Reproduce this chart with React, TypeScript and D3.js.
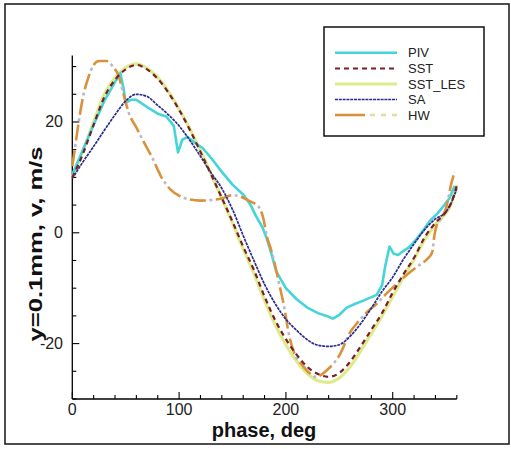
import React from "react";
import * as d3 from "d3";

const pivData: [number, number][] = [
  [0, 10.5], [10, 15], [20, 19.5], [30, 23.8], [40, 27.2], [45, 28.8], [48, 26], [50, 23.5],
  [55, 24], [60, 24], [70, 22.7], [80, 21.5], [88, 21], [95, 19.3], [99, 14.5], [103, 16.8],
  [108, 17.3], [115, 16.2], [122, 15.3], [130, 13.5], [140, 11], [150, 8.7], [160, 6.9],
  [167, 5], [172, 3], [178, 1], [182, -1], [186, -3.5], [191, -7], [200, -10], [210, -12],
  [220, -13.5], [230, -14.5], [238, -15], [244, -15.5], [250, -14.8], [257, -13.5], [265, -12.8],
  [273, -12.2], [285, -11.2], [290, -9.5], [293, -6], [297, -2.5], [301, -3.8], [305, -4],
  [310, -3.3], [316, -2.5], [322, -1.2], [328, 0.3], [335, 2.2], [342, 3.5], [347, 4.7],
  [353, 6.2], [358, 8.5],
];

const sstData: [number, number][] = [
  [0, 10], [5, 12], [10, 14.3], [20, 19.5], [30, 24.5], [40, 27.6], [50, 29.5], [60, 30.3],
  [70, 29.5], [80, 27.8], [90, 25.3], [100, 22.2], [110, 18.6], [120, 14.6], [130, 10.5],
  [140, 6.3], [150, 2], [160, -2.5], [170, -6.7], [180, -11.5], [190, -15.8], [200, -19.2],
  [210, -22], [220, -24.2], [230, -25.5], [240, -26], [250, -25.3], [260, -23.3], [270, -20.5],
  [280, -17.5], [290, -14.5], [300, -10.8], [310, -7.5], [320, -4.5], [330, -0.8], [340, 1.8],
  [350, 3.8], [355, 5.5], [360, 8.5],
];

const sstLesData: [number, number][] = [
  [0, 10], [5, 12.3], [10, 14.8], [20, 20], [30, 25], [40, 28], [50, 29.8], [60, 30.5],
  [70, 29.7], [80, 28], [90, 25.5], [100, 22.3], [110, 18.8], [120, 14.8], [130, 10.6],
  [140, 6.2], [150, 1.8], [160, -2.9], [170, -7.3], [180, -12.2], [190, -16.6], [200, -20.2],
  [210, -23.2], [220, -25.4], [230, -26.7], [240, -27], [250, -26.2], [260, -24.2], [270, -21.3],
  [280, -18.2], [290, -15], [300, -11.5], [310, -8], [320, -4.8], [330, -1.2], [340, 1.5],
  [350, 3.6], [355, 5.3], [360, 8.6],
];

const saData: [number, number][] = [
  [0, 9.8], [10, 12.8], [20, 15.6], [30, 18.5], [40, 21.3], [50, 23.8], [60, 25], [70, 24.6],
  [80, 23], [90, 21.3], [100, 19.3], [110, 16.7], [120, 13.8], [130, 10.8], [140, 8],
  [150, 4.2], [160, -0.5], [170, -5], [180, -9.3], [190, -12.8], [200, -15.6], [210, -17.6],
  [220, -19.3], [230, -20.3], [240, -20.5], [250, -20.2], [260, -18.7], [270, -16.4],
  [280, -13.6], [290, -10.6], [300, -8], [310, -4.8], [320, -2], [330, 0.6], [340, 2.5],
  [350, 3.8], [355, 5.5], [360, 8],
];

const hwData: [number, number][] = [
  [0, 12], [3, 16], [6, 20], [10, 24.5], [15, 28], [20, 30.3], [25, 31], [32, 31], [38, 30],
  [43, 28.5], [48, 25], [53, 21.6], [60, 19], [68, 16], [75, 13.5], [83, 10.2], [92, 7.8],
  [100, 6.7], [110, 6], [120, 5.8], [130, 5.9], [140, 6.2], [150, 6.8], [158, 6.5], [166, 5.7],
  [174, 4.8], [179, 2.5], [182, -0.5], [186, -3], [190, -6], [194, -9.5], [198, -13],
  [203, -18.5], [208, -21.8], [215, -23.8], [222, -25.3], [228, -26], [234, -25.5], [240, -24.5],
  [245, -23.5], [251, -21.8], [260, -18], [268, -16], [276, -14.3], [285, -12.8], [295, -10.8],
  [305, -9], [315, -7.3], [325, -5.8], [332, -4.8], [337, -3.5], [339, -0.5], [341, 1.2],
  [345, 2.5], [350, 4.5], [355, 9], [358, 11],
];

const legendLabels = ["PIV", "SST", "SST_LES", "SA", "HW"];
const xMajorTicks = [0, 100, 200, 300];
const xMinorTicks = d3.range(0, 361, 20);
const yMajorTicks = [-20, 0, 20];
const yMinorTicks = d3.range(-30, 31, 5);

const W = 511;
const H = 449;
const x = d3.scaleLinear().domain([0, 360]).range([72.3, 456.8]);
const y = d3.scaleLinear().domain([-30, 32]).range([399, 55.5]);

const smooth = d3
  .line<[number, number]>()
  .x((d) => x(d[0]))
  .y((d) => y(d[1]))
  .curve(d3.curveMonotoneX);
const straight = d3
  .line<[number, number]>()
  .x((d) => x(d[0]))
  .y((d) => y(d[1]))
  .curve(d3.curveLinear);

const FONT = "'Liberation Sans', Arial, sans-serif";

const styles: Record<string, any> = {
  PIV: { stroke: "#45D4D8", width: 2.6 },
  SST: { stroke: "#7A1E2E", width: 2.2, dash: "5 4" },
  SST_LES: { stroke: "#DDEB8A", width: 3.2 },
  SA: { stroke: "#2C2C8E", width: 1.7, dash: "3 0.8" },
  HW: { stroke: "#D9913C", width: 2.6, dash: "16 10" },
};

function HWPath({ d }: { d: string }) {
  return (
    <g>
      <path d={d} fill="none" stroke="#D9913C" strokeWidth={2.6} strokeDasharray="16 10" />
      <path
        d={d}
        fill="none"
        stroke="#B9B9C6"
        strokeWidth={2.6}
        strokeDasharray="3 23"
        strokeDashoffset={6.5}
      />
    </g>
  );
}

export default function App() {
  const legendY = [52.7, 68.5, 84, 99.5, 115];
  return (
    <svg
      width={W}
      height={H}
      style={{ position: "absolute", left: 0, top: 0, background: "#fff" }}
      fontFamily={FONT}
    >
      <rect x={0} y={0} width={W} height={H} fill="#fff" />
      <rect x={5} y={4} width={504} height={440} fill="none" stroke="#222" strokeWidth={1.6} />

      {/* axes */}
      <line x1={x(0)} x2={x(360)} y1={y(-30)} y2={y(-30)} stroke="#000" strokeWidth={1.3} />
      <line x1={x(0)} x2={x(0)} y1={y(-30)} y2={y(32)} stroke="#000" strokeWidth={1.3} />
      {xMinorTicks.map((t) => (
        <line
          key={"xt" + t}
          x1={x(t)}
          x2={x(t)}
          y1={y(-30)}
          y2={y(-30) - (xMajorTicks.includes(t) ? 7 : 4)}
          stroke="#000"
          strokeWidth={1.1}
        />
      ))}
      {yMinorTicks.map((t) => (
        <line
          key={"yt" + t}
          x1={x(0)}
          x2={x(0) + (yMajorTicks.includes(t) ? 7 : 4)}
          y1={y(t)}
          y2={y(t)}
          stroke="#000"
          strokeWidth={1.1}
        />
      ))}
      {xMajorTicks.map((t) => (
        <text key={"xl" + t} x={x(t)} y={415} fontSize={16} textAnchor="middle" fill="#222">
          {t}
        </text>
      ))}
      {yMajorTicks.map((t) => (
        <text key={"yl" + t} x={63} y={y(t) + 5.5} fontSize={16} textAnchor="end" fill="#222">
          {t}
        </text>
      ))}
      <text x={264} y={437} fontSize={20} fontWeight="bold" textAnchor="middle" fill="#111">
        phase, deg
      </text>
      <text
        transform={`translate(42,244) rotate(-90)`}
        fontSize={19}
        fontWeight="bold"
        textAnchor="middle"
        fill="#111"
        textLength={195}
        lengthAdjust="spacingAndGlyphs"
      >
        y=0.1mm, v, m/s
      </text>

      {/* series */}
      <path d={smooth(sstLesData) || ""} fill="none" stroke={styles.SST_LES.stroke} strokeWidth={styles.SST_LES.width} />
      <path d={straight(pivData) || ""} fill="none" stroke={styles.PIV.stroke} strokeWidth={styles.PIV.width} strokeLinejoin="round" />
      <HWPath d={smooth(hwData) || ""} />
      <path d={smooth(saData) || ""} fill="none" stroke={styles.SA.stroke} strokeWidth={styles.SA.width} strokeDasharray={styles.SA.dash} />
      <path d={smooth(sstData) || ""} fill="none" stroke={styles.SST.stroke} strokeWidth={styles.SST.width} strokeDasharray={styles.SST.dash} />

      {/* legend */}
      <rect x={324} y={27} width={160} height={109} fill="#fff" stroke="#111" strokeWidth={1.5} />
      {legendLabels.map((name, i) => {
        const ly = legendY[i];
        const s = styles[name];
        return (
          <g key={name}>
            {name === "HW" ? (
              <g>
                <line x1={335} x2={365} y1={ly} y2={ly} stroke="#D9913C" strokeWidth={2.6} />
                <line x1={370} x2={397} y1={ly} y2={ly} stroke="#E8D8A8" strokeWidth={2.4} strokeDasharray="5 6" />
              </g>
            ) : (
              <line
                x1={335}
                x2={397}
                y1={ly}
                y2={ly}
                stroke={s.stroke}
                strokeWidth={s.width}
                strokeDasharray={s.dash || undefined}
              />
            )}
            <text x={408} y={ly + 4.5} fontSize={13} fill="#222">
              {name}
            </text>
          </g>
        );
      })}
    </svg>
  );
}
